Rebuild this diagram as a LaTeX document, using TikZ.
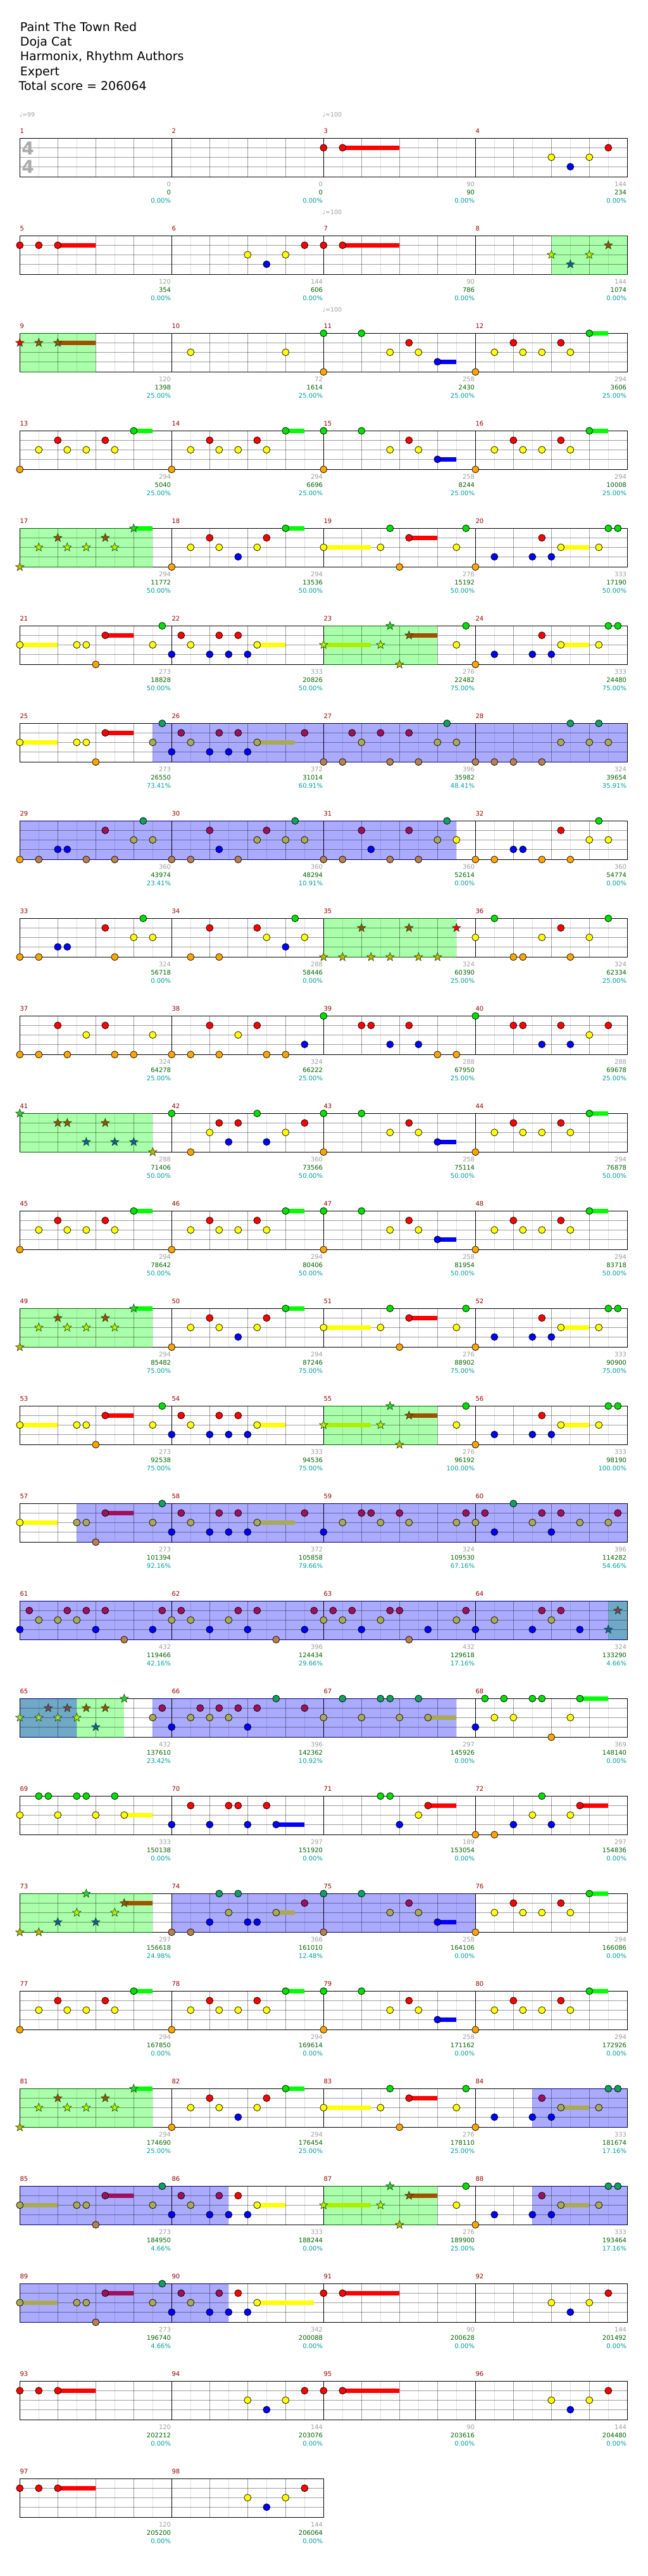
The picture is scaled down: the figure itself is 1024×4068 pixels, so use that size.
\documentclass[tikz,border=0pt]{standalone}
\usepackage{fontspec}
\setmainfont{DejaVu Sans}
\usetikzlibrary{shapes.geometric}
\pgfdeclarelayer{bg}
\pgfdeclarelayer{shade}
\pgfdeclarelayer{grid}
\pgfdeclarelayer{sus}
\pgfsetlayers{bg,shade,grid,sus,main}

\definecolor{cr}{HTML}{FF0000}
\definecolor{cy}{HTML}{FFFF00}
\definecolor{cb}{HTML}{0000FF}
\definecolor{cg}{HTML}{00E000}
\definecolor{ck}{HTML}{FFA500}
\definecolor{fR}{HTML}{A0105A}
\definecolor{fY}{HTML}{AAAA55}
\definecolor{fG}{HTML}{10A060}
\definecolor{fK}{HTML}{B88050}
\definecolor{sR}{HTML}{A05000}
\definecolor{sY}{HTML}{B8F000}
\definecolor{sB}{HTML}{1060A0}
\definecolor{sG}{HTML}{30D030}
\definecolor{sK}{HTML}{C8B400}
\definecolor{tR}{HTML}{804060}
\definecolor{tY}{HTML}{A8D848}
\definecolor{shG}{HTML}{AAFFAA}
\definecolor{shB}{HTML}{AAAAFF}
\definecolor{shT}{HTML}{70A8C8}
\definecolor{bdG}{HTML}{006000}
\definecolor{bdB}{HTML}{000070}
\definecolor{susG}{HTML}{00FF00}
\definecolor{susL}{HTML}{A8F000}
\definecolor{stardraw}{HTML}{104010}
\definecolor{numgray}{HTML}{A0A0A0}
\definecolor{numgreen}{HTML}{006400}
\definecolor{numcyan}{HTML}{009E9E}
\definecolor{mnumc}{HTML}{990000}

\def\chsetlane#1#2{\expandafter\def\csname ln@#1\endcsname{#2}}
\chsetlane{r}{15}\chsetlane{R}{15}\chsetlane{sr}{15}\chsetlane{srr}{15}\chsetlane{tr}{15}
\chsetlane{y}{30}\chsetlane{Y}{30}\chsetlane{sy}{30}\chsetlane{ty}{30}
\chsetlane{b}{45}\chsetlane{sb}{45}
\chsetlane{g}{0}\chsetlane{G}{0}\chsetlane{sg}{0}
\chsetlane{k}{61}\chsetlane{K}{61}\chsetlane{sk}{61}

\tikzset{
 ncirc/.style={circle,draw=black,line width=0.7pt,minimum size=11pt,inner sep=0pt},
 nstar/.style={star,star points=5,star point ratio=2.4,draw=stardraw,line width=0.6pt,minimum size=14pt,inner sep=0pt},
 nt-r/.style={ncirc,fill=cr}, nt-y/.style={ncirc,fill=cy}, nt-b/.style={ncirc,fill=cb},
 nt-g/.style={ncirc,fill=cg}, nt-k/.style={ncirc,fill=ck},
 nt-R/.style={ncirc,fill=fR}, nt-Y/.style={ncirc,fill=fY}, nt-G/.style={ncirc,fill=fG}, nt-K/.style={ncirc,fill=fK},
 nt-sr/.style={nstar,fill=sR}, nt-sy/.style={nstar,fill=sY}, nt-sb/.style={nstar,fill=sB},
 nt-sg/.style={nstar,fill=sG}, nt-sk/.style={nstar,fill=sK}, nt-srr/.style={nstar,fill=cr},
 nt-tr/.style={nstar,fill=tR}, nt-ty/.style={nstar,fill=tY},
 qline/.style={line width=1pt,black,opacity=.38},
 eline/.style={line width=1pt,black,opacity=.12},
 mline/.style={line width=1pt,black},
 bline/.style={line width=1.3pt,black},
 mnum/.style={inner sep=0pt,text=mnumc,font=\fontsize{10}{12}\selectfont},
 sc1/.style={inner sep=0pt,anchor=east,text=numgray,font=\fontsize{10}{12}\selectfont},
 sc2/.style={inner sep=0pt,anchor=east,text=numgreen,font=\fontsize{10}{12}\selectfont},
 sc3/.style={inner sep=0pt,anchor=east,text=numcyan,font=\fontsize{10}{12}\selectfont},
 ttl/.style={inner sep=0pt,anchor=base west,font=\fontsize{19}{22}\selectfont},
 tempo/.style={inner sep=0pt,anchor=west,text=numgray,font=\fontsize{9.5}{11}\selectfont},
 tsig/.style={inner sep=0pt,text=black!33,font=\fontsize{28}{30}\selectfont\bfseries},
}

\newcommand\chorig[1]{%
  \pgfmathtruncatemacro\chc{mod(#1-1,4)}%
  \pgfmathtruncatemacro\chrw{floor((#1-1)/4)}%
  \pgfmathsetmacro\chX{31.3+240*\chc}%
  \pgfmathsetmacro\chY{218.3+154*\chrw}}

\newcommand\chnts[2]{\chorig{#1}\edef\chlist{#2}%
  \foreach \NP/\NQ in \chlist {%
    \edef\chtmp{\noexpand\node[nt-\NQ] (n#1-\NP\NQ) at (\chX+15*\NP,\chY+\csname ln@\NQ\endcsname) {};}\chtmp}}

\newcommand\chsus[5]{\chorig{#1}\begin{pgfonlayer}{sus}\fill[#5] (\chX+15*#2,\chY+#4-3.3) rectangle (\chX+15*#3,\chY+#4+3.3);\end{pgfonlayer}}

\newcommand\chreg[5]{\chorig{#1}%
 \begin{pgfonlayer}{shade}\fill[#4] (\chX+15*#2,\chY) rectangle ++(15*#3,61);\end{pgfonlayer}%
 \begin{pgfonlayer}{sus}\draw[#5,line width=1.3pt] (\chX+15*#2,\chY) -- ++(15*#3,0) (\chX+15*#2,\chY+61) -- ++(15*#3,0);\end{pgfonlayer}}

\newcommand\chrow[2]{%
 \pgfmathsetmacro\chRY{218.3+154*(#1-1)}%
 \pgfmathtruncatemacro\chNE{8*#2-1}%
 \pgfmathsetmacro\chRW{240*#2}%
 \begin{pgfonlayer}{grid}
 \foreach \ii in {1,...,\chNE}{%
   \pgfmathtruncatemacro\imm{mod(\ii,8)}%
   \pgfmathtruncatemacro\iqq{mod(\ii,2)}%
   \ifnum\imm=0 \draw[mline] (31.3+30*\ii,\chRY) -- ++(0,61);%
   \else\ifnum\iqq=0 \draw[qline] (31.3+30*\ii,\chRY) -- ++(0,61);%
   \else \draw[eline] (31.3+30*\ii,\chRY) -- ++(0,61);\fi\fi}%
 \foreach \hh in {15,30,45}{\draw[qline] (31.3,\chRY+\hh) -- ++(\chRW,0);}%
 \draw[bline] (31.3,\chRY) rectangle ++(\chRW,61);
 \end{pgfonlayer}}

\newcommand\chtxt[4]{\chorig{#1}%
 \node[mnum,anchor=west] (mn#1) at (\chX,\chY-11.3) {#1};%
 \node[sc1] (sa#1) at (\chX+239,\chY+72.7) {#2};%
 \node[sc2] (sb#1) at (\chX+239,\chY+85.7) {#3};%
 \node[sc3] (sc#1) at (\chX+239,\chY+98.4) {#4\%};}

% note patterns
\def\chpA{0/k,2/y,4/r,5/y,7/y,9/r,10/y,12/g}
\def\chpB{0/g,0/k,4/g,7/y,9/r,10/y,12/b}
\def\chpS{0/sk,2/sy,4/sr,5/sy,7/sy,9/sr,10/sy,12/sg}
\def\chpD{0/k,2/y,4/r,5/y,7/b,9/y,10/r,12/g}
\def\chpE{0/y,6/y,7/g,8/k,9/r,14/y,15/g}
\def\chpF{0/k,2/b,6/b,7/r,8/b,9/y,13/y,14/g,15/g}
\def\chpH{0/y,6/y,7/y,8/k,9/r,14/y,15/g}
\def\chpI{0/b,1/r,2/y,4/b,5/r,6/b,7/r,8/b,9/y}
\def\chpJ{0/sy,6/sy,7/sg,8/sk,9/sr,14/y,15/g}
\def\chpK{0/b,1/R,2/Y,4/b,5/R,6/b,7/R,8/b,9/Y,14/R}
\def\chpL{0/k,2/b,6/b,7/R,8/b,9/Y,13/Y,14/G,15/G}
\def\chpM{0/Y,6/Y,7/Y,8/K,9/R,14/Y,15/G}
\def\chpN{0/b,1/R,2/Y,4/b,5/R,6/b,7/r,8/b,9/y}
\def\chpT{8/y,10/b,12/y,14/r}

\newcommand\susGr[1]{\chsus{#1}{12}{14}{0}{susG}}
\newcommand\susBl[1]{\chsus{#1}{12}{14}{45}{cb}}
\newcommand\susE[1]{\chsus{#1}{0}{5}{30}{cy}\chsus{#1}{9}{12}{15}{cr}}
\newcommand\susF[1]{\chsus{#1}{9}{12}{30}{cy}}
\newcommand\susH[1]{\chsus{#1}{0}{4}{30}{cy}\chsus{#1}{9}{12}{15}{cr}}
\newcommand\susJ[1]{\chsus{#1}{0}{5}{30}{susL}\chsus{#1}{9}{12}{15}{sR}}

\begin{document}
\begin{tikzpicture}[x=1pt,y=-1pt]
\path[use as bounding box] (0,0) rectangle (1024,4068);
\begin{pgfonlayer}{bg}\fill[white] (0,0) rectangle (1024,4068);\end{pgfonlayer}

% header
\node[ttl] (h1) at (31.7,49.3) {Paint The Town Red};
\node[ttl] (h2) at (31.7,72.6) {Doja Cat};
\node[ttl] (h3) at (31.7,95.9) {Harmonix, Rhythm Authors};
\node[ttl] (h4) at (31.7,119.2) {Expert};
\node[ttl] (h5) at (29.5,142.5) {Total score = 206064};

% tempo
\node[tempo] (tp1) at (30.5,181) {♩=99};
\node[tempo] (tp2) at (509.5,181) {♩=100};
\node[tempo] (tp3) at (509.5,335) {♩=100};
\node[tempo] (tp4) at (509.5,489) {♩=100};

% shaded regions
\chreg{8}{8}{8}{shG}{bdG}
\chreg{9}{0}{8}{shG}{bdG}
\chreg{17}{0}{14}{shG}{bdG}
\chreg{23}{0}{12}{shG}{bdG}
\chreg{25}{14}{50}{shB}{bdB}
\chreg{29}{0}{46}{shB}{bdB}
\chreg{35}{0}{14}{shG}{bdG}
\chreg{41}{0}{14}{shG}{bdG}
\chreg{49}{0}{14}{shG}{bdG}
\chreg{55}{0}{12}{shG}{bdG}
\chreg{57}{6}{58}{shB}{bdB}
\chreg{61}{0}{62}{shB}{bdB}
\chreg{64}{14}{2}{shT}{bdB}
\chreg{65}{0}{6}{shT}{bdB}
\chreg{65}{6}{5}{shG}{bdG}
\chreg{65}{14}{32}{shB}{bdB}
\chreg{73}{0}{14}{shG}{bdG}
\chreg{74}{0}{32}{shB}{bdB}
\chreg{81}{0}{14}{shG}{bdG}
\chreg{84}{6}{10}{shB}{bdB}
\chreg{85}{0}{22}{shB}{bdB}
\chreg{87}{0}{12}{shG}{bdG}
\chreg{88}{6}{10}{shB}{bdB}
\chreg{89}{0}{22}{shB}{bdB}

% staffs
\foreach \rr in {1,...,24}{\chrow{\rr}{4}}
\chrow{25}{2}
\node[tsig] (ts1) at (44,234) {4};
\node[tsig] (ts2) at (44,263.5) {4};

% sustains
\chsus{3}{2}{8}{15}{cr}
\chsus{5}{4}{8}{15}{cr}
\chsus{7}{2}{8}{15}{cr}
\chsus{9}{4}{8}{15}{sR}
\susBl{11}\susGr{12}\susGr{13}\susGr{14}\susBl{15}\susGr{16}
\susGr{17}\susGr{18}\susE{19}\susF{20}
\susH{21}\susF{22}\susJ{23}\susF{24}
\susH{25}\chsus{26}{9}{13}{30}{fY}
\susBl{43}\susGr{44}\susGr{45}\susGr{46}\susBl{47}\susGr{48}
\susGr{49}\susGr{50}\susE{51}\susF{52}
\susH{53}\susF{54}\susJ{55}\susF{56}
\chsus{57}{0}{4}{30}{cy}\chsus{57}{9}{12}{15}{fR}
\chsus{58}{9}{13}{30}{fY}
\chsus{67}{11}{14}{30}{fY}
\chsus{68}{11}{14}{0}{susG}
\chsus{69}{11}{14}{30}{cy}
\chsus{70}{11}{14}{45}{cb}
\chsus{71}{11}{14}{15}{cr}
\chsus{72}{11}{14}{15}{cr}
\chsus{73}{11}{14}{15}{sR}
\chsus{74}{11}{13}{30}{fY}
\susBl{75}\susGr{76}
\susGr{77}\susGr{78}\susBl{79}\susGr{80}
\susGr{81}\susGr{82}\susE{83}\chsus{84}{9}{12}{30}{fY}
\chsus{85}{0}{4}{30}{fY}\chsus{85}{9}{12}{15}{fR}
\susF{86}\susJ{87}\chsus{88}{9}{12}{30}{fY}
\chsus{89}{0}{4}{30}{fY}\chsus{89}{9}{12}{15}{fR}
\chsus{90}{9}{15}{30}{cy}
\chsus{91}{2}{8}{15}{cr}
\chsus{93}{4}{8}{15}{cr}
\chsus{95}{2}{8}{15}{cr}
\chsus{97}{4}{8}{15}{cr}

% notes
\chnts{3}{0/r,2/r}
\chnts{4}{\chpT}
\chnts{5}{0/r,2/r,4/r}
\chnts{6}{\chpT}
\chnts{7}{0/r,2/r}
\chnts{8}{8/sy,10/sb,12/sy,14/sr}
\chnts{9}{0/srr,2/sr,4/sr}
\chnts{10}{2/y,12/y}
\chnts{11}{\chpB}
\chnts{12}{\chpA}
\chnts{13}{\chpA}
\chnts{14}{\chpA}
\chnts{15}{\chpB}
\chnts{16}{\chpA}
\chnts{17}{\chpS}
\chnts{18}{\chpD}
\chnts{19}{\chpE}
\chnts{20}{\chpF}
\chnts{21}{\chpH}
\chnts{22}{\chpI}
\chnts{23}{\chpJ}
\chnts{24}{\chpF}
\chnts{25}{0/y,6/y,7/y,8/k,9/r,14/Y,15/G}
\chnts{26}{\chpK}
\chnts{27}{0/K,2/K,3/R,4/Y,6/R,7/K,9/R,10/K,12/Y,13/G,14/Y}
\chnts{28}{0/K,2/K,4/K,7/K,9/Y,10/G,12/Y,13/G,14/Y}
\chnts{29}{0/k,2/K,4/b,5/b,7/K,9/R,10/K,12/Y,13/G,14/Y}
\chnts{30}{0/K,2/K,4/R,5/b,7/K,9/Y,10/R,12/Y,13/G,14/Y}
\chnts{31}{0/K,2/K,4/R,5/b,7/K,9/R,10/K,12/Y,13/G,14/y}
\chnts{32}{0/k,2/k,4/b,5/b,7/k,9/r,10/k,12/y,13/g,14/y}
\chnts{33}{0/k,2/k,4/b,5/b,9/r,10/k,12/y,13/g,14/y}
\chnts{34}{2/k,4/r,5/k,9/r,10/y,12/b,13/g,14/y}
\chnts{35}{0/sk,2/sk,4/sr,5/sk,7/sk,9/sr,10/sk,12/sk,14/srr}
\chnts{36}{0/y,2/g,4/k,5/k,7/y,9/r,10/k,12/y,14/g}
\chnts{37}{0/k,2/k,4/r,5/k,7/y,9/r,10/k,12/k,14/y}
\chnts{38}{0/k,2/k,4/r,5/k,7/y,9/r,10/k,12/k,14/b}
\chnts{39}{0/g,4/r,5/r,7/b,9/r,10/b,12/k,14/k}
\chnts{40}{0/g,4/r,5/r,7/b,9/r,10/b,12/y,14/r}
\chnts{41}{0/sg,4/sr,5/sr,7/sb,9/sr,10/sb,12/sb,14/sk}
\chnts{42}{0/g,2/k,4/y,5/r,6/b,7/r,9/g,10/b,12/y,14/r}
\chnts{43}{\chpB}
\chnts{44}{\chpA}
\chnts{45}{\chpA}
\chnts{46}{\chpA}
\chnts{47}{\chpB}
\chnts{48}{\chpA}
\chnts{49}{\chpS}
\chnts{50}{\chpD}
\chnts{51}{\chpE}
\chnts{52}{\chpF}
\chnts{53}{\chpH}
\chnts{54}{\chpI}
\chnts{55}{\chpJ}
\chnts{56}{\chpF}
\chnts{57}{0/y,6/Y,7/Y,8/K,9/R,14/Y,15/G}
\chnts{58}{\chpK}
\chnts{59}{0/b,2/Y,4/R,5/R,6/Y,8/R,9/Y,14/Y,15/R}
\chnts{60}{0/Y,1/R,2/b,4/G,6/Y,7/R,8/b,9/R,11/Y,14/Y,15/R}
\chnts{61}{0/b,1/R,2/Y,4/Y,5/R,6/Y,7/R,8/b,9/R,11/K,14/b,15/R}
\chnts{62}{0/Y,1/R,2/Y,4/b,6/Y,7/R,8/b,9/R,11/K,14/b,15/R}
\chnts{63}{0/Y,1/R,2/Y,3/R,4/b,6/Y,7/R,8/R,9/K,11/b,14/Y,15/R}
\chnts{64}{0/b,2/Y,6/b,7/R,8/Y,9/R,11/b,14/sb,15/tr}
\chnts{65}{0/ty,2/ty,3/tr,4/ty,5/tr,6/sy,7/sr,8/sb,9/sr,11/sg,14/Y,15/R}
\chnts{66}{0/b,2/Y,3/R,4/Y,5/R,6/Y,7/R,8/b,9/R,11/G,14/R}
\chnts{67}{0/Y,2/G,4/Y,6/G,7/G,8/Y,10/G,11/Y}
\chnts{68}{0/b,1/g,2/y,3/g,4/y,6/g,7/g,8/k,10/y,11/g}
\chnts{69}{0/y,2/g,3/g,4/y,6/g,7/g,8/y,10/g,11/y}
\chnts{70}{0/b,2/r,4/b,6/r,7/r,8/b,10/r,11/b}
\chnts{71}{6/g,7/g,8/b,10/y,11/r}
\chnts{72}{0/k,2/k,4/b,6/y,7/g,8/b,10/y,11/r}
\chnts{73}{0/sk,2/sk,4/sb,6/sy,7/sg,8/sb,10/sy,11/sr}
\chnts{74}{0/K,2/K,4/b,5/G,6/Y,7/G,8/b,9/b,11/Y,14/R}
\chnts{75}{0/G,0/K,4/G,7/Y,9/R,10/Y,12/b}
\chnts{76}{\chpA}
\chnts{77}{\chpA}
\chnts{78}{\chpA}
\chnts{79}{\chpB}
\chnts{80}{\chpA}
\chnts{81}{\chpS}
\chnts{82}{\chpD}
\chnts{83}{\chpE}
\chnts{84}{\chpL}
\chnts{85}{\chpM}
\chnts{86}{\chpN}
\chnts{87}{\chpJ}
\chnts{88}{\chpL}
\chnts{89}{\chpM}
\chnts{90}{\chpN}
\chnts{91}{0/r,2/r}
\chnts{92}{\chpT}
\chnts{93}{0/r,2/r,4/r}
\chnts{94}{\chpT}
\chnts{95}{0/r,2/r}
\chnts{96}{\chpT}
\chnts{97}{0/r,2/r,4/r}
\chnts{98}{\chpT}

% measure texts
\chtxt{1}{0}{0}{0.00}
\chtxt{2}{0}{0}{0.00}
\chtxt{3}{90}{90}{0.00}
\chtxt{4}{144}{234}{0.00}
\chtxt{5}{120}{354}{0.00}
\chtxt{6}{144}{606}{0.00}
\chtxt{7}{90}{786}{0.00}
\chtxt{8}{144}{1074}{0.00}
\chtxt{9}{120}{1398}{25.00}
\chtxt{10}{72}{1614}{25.00}
\chtxt{11}{258}{2430}{25.00}
\chtxt{12}{294}{3606}{25.00}
\chtxt{13}{294}{5040}{25.00}
\chtxt{14}{294}{6696}{25.00}
\chtxt{15}{258}{8244}{25.00}
\chtxt{16}{294}{10008}{25.00}
\chtxt{17}{294}{11772}{50.00}
\chtxt{18}{294}{13536}{50.00}
\chtxt{19}{276}{15192}{50.00}
\chtxt{20}{333}{17190}{50.00}
\chtxt{21}{273}{18828}{50.00}
\chtxt{22}{333}{20826}{50.00}
\chtxt{23}{276}{22482}{75.00}
\chtxt{24}{333}{24480}{75.00}
\chtxt{25}{273}{26550}{73.41}
\chtxt{26}{372}{31014}{60.91}
\chtxt{27}{396}{35982}{48.41}
\chtxt{28}{324}{39654}{35.91}
\chtxt{29}{360}{43974}{23.41}
\chtxt{30}{360}{48294}{10.91}
\chtxt{31}{360}{52614}{0.00}
\chtxt{32}{360}{54774}{0.00}
\chtxt{33}{324}{56718}{0.00}
\chtxt{34}{288}{58446}{0.00}
\chtxt{35}{324}{60390}{25.00}
\chtxt{36}{324}{62334}{25.00}
\chtxt{37}{324}{64278}{25.00}
\chtxt{38}{324}{66222}{25.00}
\chtxt{39}{288}{67950}{25.00}
\chtxt{40}{288}{69678}{25.00}
\chtxt{41}{288}{71406}{50.00}
\chtxt{42}{360}{73566}{50.00}
\chtxt{43}{258}{75114}{50.00}
\chtxt{44}{294}{76878}{50.00}
\chtxt{45}{294}{78642}{50.00}
\chtxt{46}{294}{80406}{50.00}
\chtxt{47}{258}{81954}{50.00}
\chtxt{48}{294}{83718}{50.00}
\chtxt{49}{294}{85482}{75.00}
\chtxt{50}{294}{87246}{75.00}
\chtxt{51}{276}{88902}{75.00}
\chtxt{52}{333}{90900}{75.00}
\chtxt{53}{273}{92538}{75.00}
\chtxt{54}{333}{94536}{75.00}
\chtxt{55}{276}{96192}{100.00}
\chtxt{56}{333}{98190}{100.00}
\chtxt{57}{273}{101394}{92.16}
\chtxt{58}{372}{105858}{79.66}
\chtxt{59}{324}{109530}{67.16}
\chtxt{60}{396}{114282}{54.66}
\chtxt{61}{432}{119466}{42.16}
\chtxt{62}{396}{124434}{29.66}
\chtxt{63}{432}{129618}{17.16}
\chtxt{64}{324}{133290}{4.66}
\chtxt{65}{432}{137610}{23.42}
\chtxt{66}{396}{142362}{10.92}
\chtxt{67}{297}{145926}{0.00}
\chtxt{68}{369}{148140}{0.00}
\chtxt{69}{333}{150138}{0.00}
\chtxt{70}{297}{151920}{0.00}
\chtxt{71}{189}{153054}{0.00}
\chtxt{72}{297}{154836}{0.00}
\chtxt{73}{297}{156618}{24.98}
\chtxt{74}{366}{161010}{12.48}
\chtxt{75}{258}{164106}{0.00}
\chtxt{76}{294}{166086}{0.00}
\chtxt{77}{294}{167850}{0.00}
\chtxt{78}{294}{169614}{0.00}
\chtxt{79}{258}{171162}{0.00}
\chtxt{80}{294}{172926}{0.00}
\chtxt{81}{294}{174690}{25.00}
\chtxt{82}{294}{176454}{25.00}
\chtxt{83}{276}{178110}{25.00}
\chtxt{84}{333}{181674}{17.16}
\chtxt{85}{273}{184950}{4.66}
\chtxt{86}{333}{188244}{0.00}
\chtxt{87}{276}{189900}{25.00}
\chtxt{88}{333}{193464}{17.16}
\chtxt{89}{273}{196740}{4.66}
\chtxt{90}{342}{200088}{0.00}
\chtxt{91}{90}{200628}{0.00}
\chtxt{92}{144}{201492}{0.00}
\chtxt{93}{120}{202212}{0.00}
\chtxt{94}{144}{203076}{0.00}
\chtxt{95}{90}{203616}{0.00}
\chtxt{96}{144}{204480}{0.00}
\chtxt{97}{120}{205200}{0.00}
\chtxt{98}{144}{206064}{0.00}
\end{tikzpicture}
\end{document}
